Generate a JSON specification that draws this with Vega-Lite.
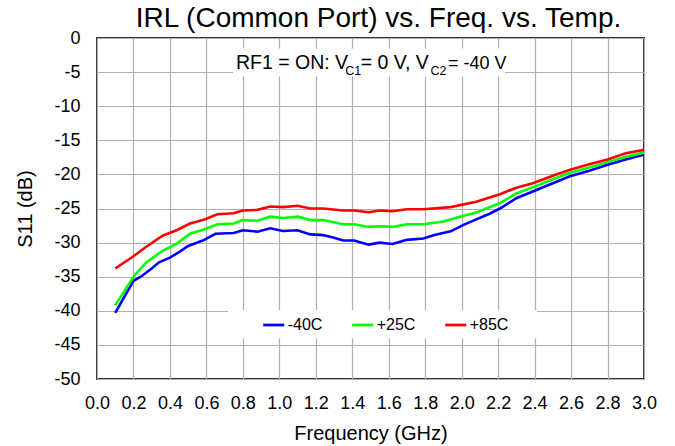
{
  "$schema": "https://vega.github.io/schema/vega-lite/v6.json",
  "autosize": "none",
  "width": 547,
  "height": 341,
  "padding": {"left": 97, "top": 38, "right": 31, "bottom": 67},
  "background": "white",
  "title": {
    "text": "IRL (Common Port) vs. Freq. vs. Temp.",
    "font": "Liberation Sans",
    "fontSize": 28,
    "fontWeight": "normal",
    "color": "black",
    "anchor": "middle",
    "frame": "group",
    "offset": 4,
    "dx": 8,
    "dy": 8
  },
  "config": {
    "view": {"stroke": "#333333", "strokeWidth": 2},
    "axis": {
      "labelFont": "Liberation Sans",
      "titleFont": "Liberation Sans",
      "labelColor": "black",
      "titleColor": "black",
      "titleFontWeight": "normal",
      "labelFontSize": 18,
      "titleFontSize": 20,
      "ticks": false,
      "domain": false,
      "gridColor": "#b0b0b0",
      "gridWidth": 1.2,
      "gridOpacity": 1,
      "labelOverlap": false,
      "labelFlush": false
    },
    "legend": {
      "labelFont": "Liberation Sans",
      "labelFontSize": 16,
      "labelColor": "black"
    }
  },
  "layer": [
    {
      "data": {
        "values": [
          {"f": 0.1, "s11": -40.3, "temp": "-40C"},
          {"f": 0.2, "s11": -35.6, "temp": "-40C"},
          {"f": 0.24, "s11": -35.0, "temp": "-40C"},
          {"f": 0.3, "s11": -33.8, "temp": "-40C"},
          {"f": 0.34, "s11": -32.9, "temp": "-40C"},
          {"f": 0.4, "s11": -32.2, "temp": "-40C"},
          {"f": 0.45, "s11": -31.4, "temp": "-40C"},
          {"f": 0.5, "s11": -30.5, "temp": "-40C"},
          {"f": 0.58, "s11": -29.7, "temp": "-40C"},
          {"f": 0.65, "s11": -28.7, "temp": "-40C"},
          {"f": 0.75, "s11": -28.6, "temp": "-40C"},
          {"f": 0.8, "s11": -28.2, "temp": "-40C"},
          {"f": 0.88, "s11": -28.4, "temp": "-40C"},
          {"f": 0.95, "s11": -27.9, "temp": "-40C"},
          {"f": 1.02, "s11": -28.3, "temp": "-40C"},
          {"f": 1.1, "s11": -28.2, "temp": "-40C"},
          {"f": 1.17, "s11": -28.8, "temp": "-40C"},
          {"f": 1.24, "s11": -28.9, "temp": "-40C"},
          {"f": 1.3, "s11": -29.3, "temp": "-40C"},
          {"f": 1.35, "s11": -29.7, "temp": "-40C"},
          {"f": 1.41, "s11": -29.7, "temp": "-40C"},
          {"f": 1.49, "s11": -30.3, "temp": "-40C"},
          {"f": 1.55, "s11": -30.0, "temp": "-40C"},
          {"f": 1.62, "s11": -30.2, "temp": "-40C"},
          {"f": 1.7, "s11": -29.6, "temp": "-40C"},
          {"f": 1.79, "s11": -29.4, "temp": "-40C"},
          {"f": 1.85, "s11": -28.9, "temp": "-40C"},
          {"f": 1.94, "s11": -28.35, "temp": "-40C"},
          {"f": 2.01, "s11": -27.4, "temp": "-40C"},
          {"f": 2.08, "s11": -26.6, "temp": "-40C"},
          {"f": 2.15, "s11": -25.8, "temp": "-40C"},
          {"f": 2.21, "s11": -25.0, "temp": "-40C"},
          {"f": 2.3, "s11": -23.5, "temp": "-40C"},
          {"f": 2.39, "s11": -22.5, "temp": "-40C"},
          {"f": 2.5, "s11": -21.3, "temp": "-40C"},
          {"f": 2.59, "s11": -20.3, "temp": "-40C"},
          {"f": 2.7, "s11": -19.45, "temp": "-40C"},
          {"f": 2.8, "s11": -18.6, "temp": "-40C"},
          {"f": 2.9, "s11": -17.8, "temp": "-40C"},
          {"f": 3.0, "s11": -17.1, "temp": "-40C"},

          {"f": 0.1, "s11": -39.2, "temp": "+25C"},
          {"f": 0.2, "s11": -35.0, "temp": "+25C"},
          {"f": 0.27, "s11": -32.9, "temp": "+25C"},
          {"f": 0.36, "s11": -31.2, "temp": "+25C"},
          {"f": 0.44, "s11": -30.1, "temp": "+25C"},
          {"f": 0.51, "s11": -28.7, "temp": "+25C"},
          {"f": 0.59, "s11": -28.05, "temp": "+25C"},
          {"f": 0.66, "s11": -27.3, "temp": "+25C"},
          {"f": 0.75, "s11": -27.2, "temp": "+25C"},
          {"f": 0.8, "s11": -26.7, "temp": "+25C"},
          {"f": 0.88, "s11": -26.8, "temp": "+25C"},
          {"f": 0.95, "s11": -26.2, "temp": "+25C"},
          {"f": 1.02, "s11": -26.4, "temp": "+25C"},
          {"f": 1.1, "s11": -26.2, "temp": "+25C"},
          {"f": 1.17, "s11": -26.7, "temp": "+25C"},
          {"f": 1.24, "s11": -26.7, "temp": "+25C"},
          {"f": 1.35, "s11": -27.3, "temp": "+25C"},
          {"f": 1.41, "s11": -27.3, "temp": "+25C"},
          {"f": 1.49, "s11": -27.7, "temp": "+25C"},
          {"f": 1.55, "s11": -27.6, "temp": "+25C"},
          {"f": 1.62, "s11": -27.7, "temp": "+25C"},
          {"f": 1.7, "s11": -27.3, "temp": "+25C"},
          {"f": 1.79, "s11": -27.3, "temp": "+25C"},
          {"f": 1.9, "s11": -26.9, "temp": "+25C"},
          {"f": 1.99, "s11": -26.2, "temp": "+25C"},
          {"f": 2.08, "s11": -25.6, "temp": "+25C"},
          {"f": 2.21, "s11": -24.2, "temp": "+25C"},
          {"f": 2.3, "s11": -22.8, "temp": "+25C"},
          {"f": 2.39, "s11": -21.9, "temp": "+25C"},
          {"f": 2.5, "s11": -20.7, "temp": "+25C"},
          {"f": 2.59, "s11": -19.8, "temp": "+25C"},
          {"f": 2.7, "s11": -19.0, "temp": "+25C"},
          {"f": 2.8, "s11": -18.2, "temp": "+25C"},
          {"f": 2.9, "s11": -17.4, "temp": "+25C"},
          {"f": 3.0, "s11": -16.8, "temp": "+25C"},

          {"f": 0.1, "s11": -33.8, "temp": "+85C"},
          {"f": 0.2, "s11": -32.0, "temp": "+85C"},
          {"f": 0.27, "s11": -30.6, "temp": "+85C"},
          {"f": 0.36, "s11": -29.0, "temp": "+85C"},
          {"f": 0.44, "s11": -28.15, "temp": "+85C"},
          {"f": 0.51, "s11": -27.2, "temp": "+85C"},
          {"f": 0.59, "s11": -26.6, "temp": "+85C"},
          {"f": 0.66, "s11": -25.85, "temp": "+85C"},
          {"f": 0.75, "s11": -25.7, "temp": "+85C"},
          {"f": 0.8, "s11": -25.3, "temp": "+85C"},
          {"f": 0.88, "s11": -25.2, "temp": "+85C"},
          {"f": 0.95, "s11": -24.7, "temp": "+85C"},
          {"f": 1.02, "s11": -24.8, "temp": "+85C"},
          {"f": 1.1, "s11": -24.6, "temp": "+85C"},
          {"f": 1.17, "s11": -25.0, "temp": "+85C"},
          {"f": 1.24, "s11": -25.0, "temp": "+85C"},
          {"f": 1.35, "s11": -25.3, "temp": "+85C"},
          {"f": 1.41, "s11": -25.3, "temp": "+85C"},
          {"f": 1.49, "s11": -25.55, "temp": "+85C"},
          {"f": 1.55, "s11": -25.3, "temp": "+85C"},
          {"f": 1.62, "s11": -25.4, "temp": "+85C"},
          {"f": 1.7, "s11": -25.1, "temp": "+85C"},
          {"f": 1.79, "s11": -25.1, "temp": "+85C"},
          {"f": 1.94, "s11": -24.8, "temp": "+85C"},
          {"f": 2.08, "s11": -24.0, "temp": "+85C"},
          {"f": 2.21, "s11": -22.9, "temp": "+85C"},
          {"f": 2.3, "s11": -21.95, "temp": "+85C"},
          {"f": 2.39, "s11": -21.3, "temp": "+85C"},
          {"f": 2.5, "s11": -20.2, "temp": "+85C"},
          {"f": 2.59, "s11": -19.35, "temp": "+85C"},
          {"f": 2.7, "s11": -18.5, "temp": "+85C"},
          {"f": 2.8, "s11": -17.8, "temp": "+85C"},
          {"f": 2.9, "s11": -16.9, "temp": "+85C"},
          {"f": 3.0, "s11": -16.4, "temp": "+85C"}
        ]
      },
      "mark": {"type": "line", "strokeWidth": 2.6, "clip": true},
      "encoding": {
        "x": {
          "field": "f",
          "type": "quantitative",
          "scale": {"domain": [0, 3], "nice": false, "zero": false},
          "axis": {"title": "Frequency (GHz)", "values": [0, 0.2, 0.4, 0.6, 0.8, 1.0, 1.2, 1.4, 1.6, 1.8, 2.0, 2.2, 2.4, 2.6, 2.8, 3.0], "format": ".1f", "labelPadding": 15, "titlePadding": 11, "labelOverlap": false}
        },
        "y": {
          "field": "s11",
          "type": "quantitative",
          "scale": {"domain": [-50, 0], "nice": false, "zero": false},
          "axis": {"title": "S11 (dB)", "values": [-50, -45, -40, -35, -30, -25, -20, -15, -10, -5, 0], "labelExpr": "'' + datum.value", "labelPadding": 17, "titlePadding": 18, "labelOverlap": false}
        },
        "color": {
          "field": "temp",
          "type": "nominal",
          "scale": {"domain": ["-40C", "+25C", "+85C"], "range": ["#0000ff", "#00ff00", "#ff0000"]},
          "legend": {
            "title": null,
            "orient": "none",
            "legendX": 164.7,
            "legendY": 275,
            "direction": "horizontal",
            "columns": 3,
            "columnPadding": 24,
            "symbolType": "stroke",
            "symbolSize": 441,
            "symbolStrokeWidth": 2.75,
            "labelOffset": 2,
            "padding": 0
          }
        }
      }
    },
    {
      "data": {"values": [{}]},
      "mark": {"type": "rect", "color": "white"},
      "encoding": {
        "x": {"datum": 0.746, "type": "quantitative", "axis": {"title": "Frequency (GHz)", "values": [0, 0.2, 0.4, 0.6, 0.8, 1.0, 1.2, 1.4, 1.6, 1.8, 2.0, 2.2, 2.4, 2.6, 2.8, 3.0], "format": ".1f", "labelPadding": 15, "titlePadding": 11, "labelOverlap": false}},
        "x2": {"datum": 2.238},
        "y": {"datum": -1.54, "type": "quantitative", "axis": {"title": "S11 (dB)", "values": [-50, -45, -40, -35, -30, -25, -20, -15, -10, -5, 0], "labelExpr": "'' + datum.value", "labelPadding": 17, "titlePadding": 18, "labelOverlap": false}},
        "y2": {"datum": -5.64}
      }
    },
    {
      "data": {"values": [{}]},
      "mark": {"type": "rect", "color": "white"},
      "encoding": {
        "x": {"datum": 0.7185, "type": "quantitative", "axis": {"title": "Frequency (GHz)", "values": [0, 0.2, 0.4, 0.6, 0.8, 1.0, 1.2, 1.4, 1.6, 1.8, 2.0, 2.2, 2.4, 2.6, 2.8, 3.0], "format": ".1f", "labelPadding": 15, "titlePadding": 11, "labelOverlap": false}},
        "x2": {"datum": 2.413},
        "y": {"datum": -39.88, "type": "quantitative", "axis": {"title": "S11 (dB)", "values": [-50, -45, -40, -35, -30, -25, -20, -15, -10, -5, 0], "labelExpr": "'' + datum.value", "labelPadding": 17, "titlePadding": 18, "labelOverlap": false}},
        "y2": {"datum": -44.03}
      }
    },
    {
      "data": {"values": [{}]},
      "mark": {"type": "text", "text": "RF1 = ON: V", "font": "Liberation Sans", "fontSize": 19.5, "align": "left", "baseline": "alphabetic", "color": "black"},
      "encoding": {
        "x": {"datum": 0.762, "type": "quantitative", "axis": {"title": "Frequency (GHz)", "values": [0, 0.2, 0.4, 0.6, 0.8, 1.0, 1.2, 1.4, 1.6, 1.8, 2.0, 2.2, 2.4, 2.6, 2.8, 3.0], "format": ".1f", "labelPadding": 15, "titlePadding": 11, "labelOverlap": false}},
        "y": {"datum": -4.59, "type": "quantitative", "axis": {"title": "S11 (dB)", "values": [-50, -45, -40, -35, -30, -25, -20, -15, -10, -5, 0], "labelExpr": "'' + datum.value", "labelPadding": 17, "titlePadding": 18, "labelOverlap": false}}
      }
    },
    {
      "data": {"values": [{}]},
      "mark": {"type": "text", "text": "C1", "font": "Liberation Sans", "fontSize": 12.5, "align": "left", "baseline": "alphabetic", "color": "black"},
      "encoding": {
        "x": {"datum": 1.362, "type": "quantitative", "axis": {"title": "Frequency (GHz)", "values": [0, 0.2, 0.4, 0.6, 0.8, 1.0, 1.2, 1.4, 1.6, 1.8, 2.0, 2.2, 2.4, 2.6, 2.8, 3.0], "format": ".1f", "labelPadding": 15, "titlePadding": 11, "labelOverlap": false}},
        "y": {"datum": -5.43, "type": "quantitative", "axis": {"title": "S11 (dB)", "values": [-50, -45, -40, -35, -30, -25, -20, -15, -10, -5, 0], "labelExpr": "'' + datum.value", "labelPadding": 17, "titlePadding": 18, "labelOverlap": false}}
      }
    },
    {
      "data": {"values": [{}]},
      "mark": {"type": "text", "text": "= 0 V, V", "font": "Liberation Sans", "fontSize": 19.5, "align": "left", "baseline": "alphabetic", "color": "black"},
      "encoding": {
        "x": {"datum": 1.446, "type": "quantitative", "axis": {"title": "Frequency (GHz)", "values": [0, 0.2, 0.4, 0.6, 0.8, 1.0, 1.2, 1.4, 1.6, 1.8, 2.0, 2.2, 2.4, 2.6, 2.8, 3.0], "format": ".1f", "labelPadding": 15, "titlePadding": 11, "labelOverlap": false}},
        "y": {"datum": -4.59, "type": "quantitative", "axis": {"title": "S11 (dB)", "values": [-50, -45, -40, -35, -30, -25, -20, -15, -10, -5, 0], "labelExpr": "'' + datum.value", "labelPadding": 17, "titlePadding": 18, "labelOverlap": false}}
      }
    },
    {
      "data": {"values": [{}]},
      "mark": {"type": "text", "text": "C2", "font": "Liberation Sans", "fontSize": 12.5, "align": "left", "baseline": "alphabetic", "color": "black"},
      "encoding": {
        "x": {"datum": 1.829, "type": "quantitative", "axis": {"title": "Frequency (GHz)", "values": [0, 0.2, 0.4, 0.6, 0.8, 1.0, 1.2, 1.4, 1.6, 1.8, 2.0, 2.2, 2.4, 2.6, 2.8, 3.0], "format": ".1f", "labelPadding": 15, "titlePadding": 11, "labelOverlap": false}},
        "y": {"datum": -5.43, "type": "quantitative", "axis": {"title": "S11 (dB)", "values": [-50, -45, -40, -35, -30, -25, -20, -15, -10, -5, 0], "labelExpr": "'' + datum.value", "labelPadding": 17, "titlePadding": 18, "labelOverlap": false}}
      }
    },
    {
      "data": {"values": [{}]},
      "mark": {"type": "text", "text": "= -40 V", "font": "Liberation Sans", "fontSize": 18, "align": "left", "baseline": "alphabetic", "color": "black"},
      "encoding": {
        "x": {"datum": 1.925, "type": "quantitative", "axis": {"title": "Frequency (GHz)", "values": [0, 0.2, 0.4, 0.6, 0.8, 1.0, 1.2, 1.4, 1.6, 1.8, 2.0, 2.2, 2.4, 2.6, 2.8, 3.0], "format": ".1f", "labelPadding": 15, "titlePadding": 11, "labelOverlap": false}},
        "y": {"datum": -4.59, "type": "quantitative", "axis": {"title": "S11 (dB)", "values": [-50, -45, -40, -35, -30, -25, -20, -15, -10, -5, 0], "labelExpr": "'' + datum.value", "labelPadding": 17, "titlePadding": 18, "labelOverlap": false}}
      }
    }
  ]
}
